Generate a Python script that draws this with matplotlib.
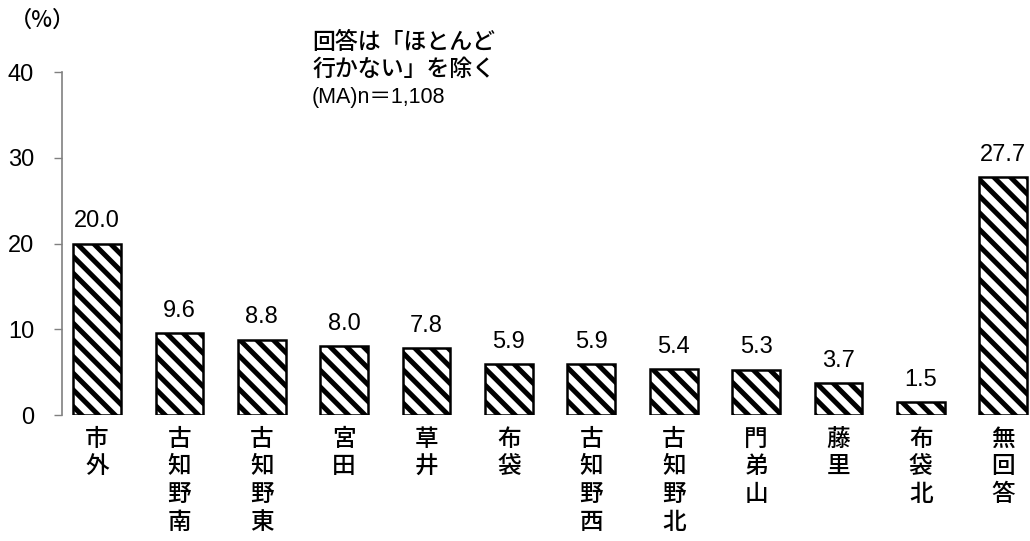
import matplotlib
matplotlib.use("Agg")
import matplotlib.pyplot as plt

categories = ["市外", "古知野南", "古知野東", "宮田", "草井", "布袋", "古知野西", "古知野北", "門弟山", "藤里", "布袋北", "無回答"]
values = [20.0, 9.6, 8.8, 8.0, 7.8, 5.9, 5.9, 5.4, 5.3, 3.7, 1.5, 27.7]
yticks = [0, 10, 20, 30, 40]

plt.rcParams['font.family'] = ['Liberation Sans', 'Noto Sans CJK JP', 'DejaVu Sans']
plt.rcParams['hatch.linewidth'] = 3.6

fig = plt.figure(figsize=(10.30, 5.41), dpi=100)
ax = fig.add_axes([0.0602, 0.2329, 0.9398, 0.634])

x = list(range(len(categories)))
ax.bar(x, values, width=0.58, facecolor='white', edgecolor='black',
       linewidth=1.8, hatch='\\\\')

for xi, v in zip(x, values):
    ax.annotate(f"{v:.1f}", (xi, v), xytext=(0, 8), textcoords='offset points',
                ha='center', va='bottom', fontsize=17)

ax.set_ylim(0, 40)
ax.set_xlim(-0.425, 11.325)
ax.set_yticks(yticks)
ax.set_yticklabels([str(t) for t in yticks], fontsize=17)
ax.set_xticks(x)
ax.set_xticklabels(["\n".join(c) for c in categories], fontsize=17,
                   family=['Noto Sans CJK JP'], fontweight='medium',
                   linespacing=1.27, va='top')
ax.tick_params(axis='x', length=0, pad=9)
ax.tick_params(axis='y', length=6, width=1, color='#808080', pad=14, direction='out')

for s in ['top', 'right', 'bottom']:
    ax.spines[s].set_visible(False)
ax.spines['left'].set_color('#808080')
ax.spines['left'].set_linewidth(1.2)

fig.text(0.010, 0.963, "（%）", fontsize=16, family=['Noto Sans CJK JP'],
         fontweight='medium', ha='left', va='center')
fig.text(0.303, 0.942, "回答は「ほとんど\n行かない」を除く", fontsize=16.5,
         family=['Noto Sans CJK JP'], fontweight='medium', ha='left', va='top',
         linespacing=1.22)
fig.text(0.303, 0.84, "(MA)n＝1,108", fontsize=15.5,
         family=['Liberation Sans', 'Noto Sans CJK JP'], ha='left', va='top')

fig.savefig("out.png", dpi=100)
